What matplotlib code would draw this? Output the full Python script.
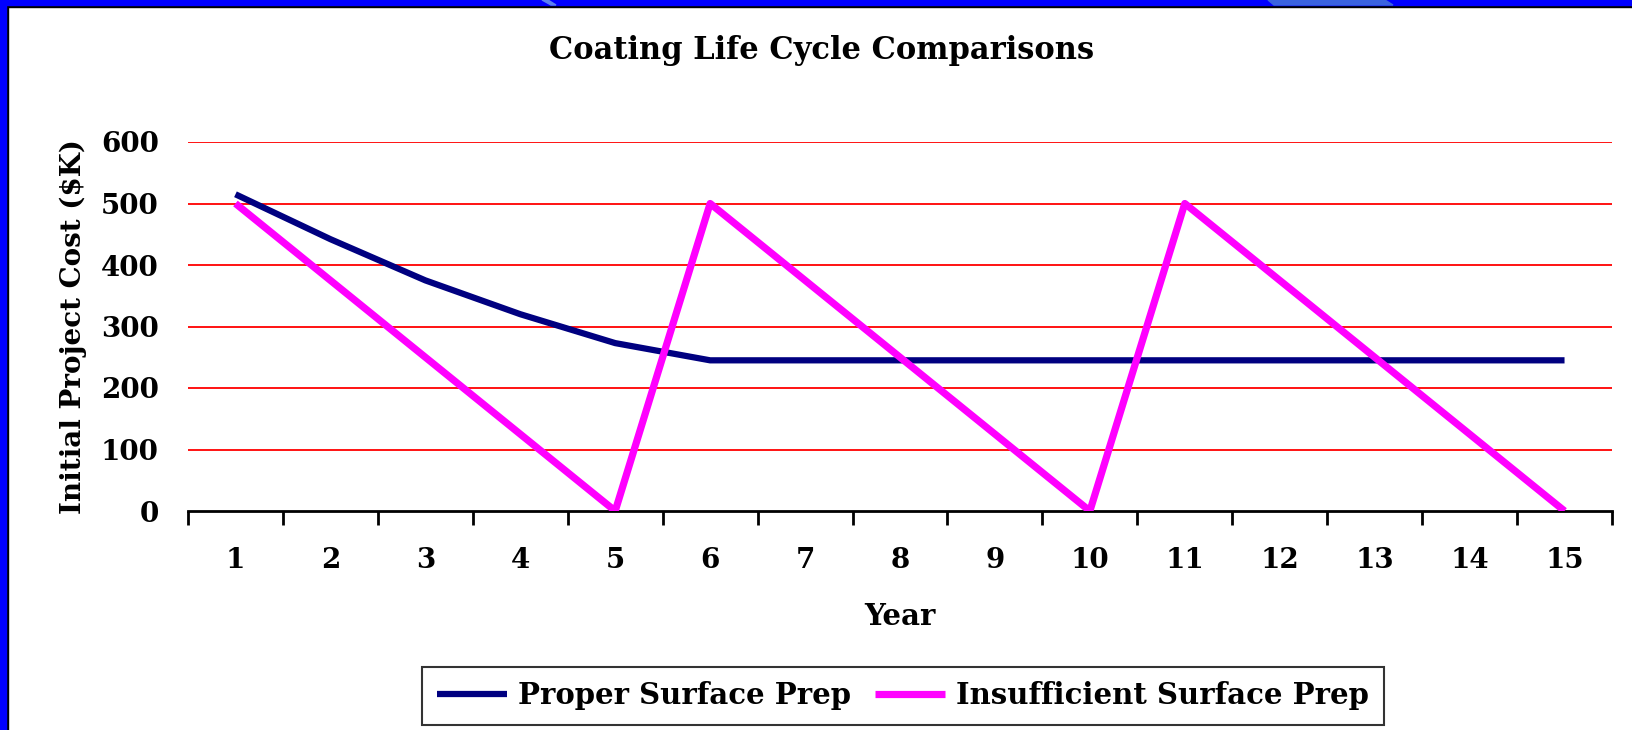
import matplotlib.pyplot as plt
from matplotlib.patches import Rectangle, Polygon

# Data
years = list(range(1, 16))
proper_prep = [515, 442, 375, 320, 273, 245, 245, 245, 245, 245, 245, 245, 245, 245, 245]
insufficient_prep = [500, 375, 250, 125, 0, 500, 375, 250, 125, 0, 500, 375, 250, 125, 0]
y_ticks = [0, 100, 200, 300, 400, 500, 600]

plt.rcParams['font.family'] = ['DejaVu Serif']
plt.rcParams['font.weight'] = 'bold'

W, H = 1632, 730
fig = plt.figure(figsize=(W / 100, H / 100), dpi=100)
fig.patch.set_facecolor('white')

# slide frame: blue band top and left with a thin black edge
fig.patches.append(Rectangle((0, 1 - 7 / H), 1, 7 / H, transform=fig.transFigure, color='black', zorder=0))
fig.patches.append(Rectangle((0, 1 - 5 / H), 1, 5 / H, transform=fig.transFigure, color='#0000FF', zorder=1))
fig.patches.append(Rectangle((0, 0), 8 / W, 1, transform=fig.transFigure, color='black', zorder=0))
fig.patches.append(Rectangle((0, 0), 6 / W, 1, transform=fig.transFigure, color='#0000FF', zorder=1))
fig.patches.append(Polygon([(1268 / W, 1), (1385 / W, 1), (1393 / W, 1 - 5 / H), (1274 / W, 1 - 5 / H)],
                           closed=True, transform=fig.transFigure, color='#3A63E0', zorder=2))
fig.patches.append(Polygon([(542 / W, 1), (548 / W, 1), (556 / W, 1 - 5 / H), (551 / W, 1 - 5 / H)],
                           closed=True, transform=fig.transFigure, color='#5A80F0', zorder=2))

ax = fig.add_axes([188 / W, 219 / H, 1424 / W, 369 / H])
ax.plot(years, proper_prep, color='#000080', lw=4.5, solid_capstyle='butt',
        label='Proper Surface Prep', zorder=3)
ax.plot(years, insufficient_prep, color='#FF00FF', lw=5.2, solid_capstyle='butt',
        label='Insufficient Surface Prep', zorder=3)

ax.set_xlim(0.5, 15.5)
ax.set_ylim(0, 600)
ax.set_yticks(y_ticks)
for v in y_ticks[1:]:
    ax.axhline(v, color='#FF0000', lw=1.3, zorder=1)

ax.set_xticks(years)
ax.set_xticks([y - 0.5 for y in years] + [15.5], minor=True)
ax.tick_params(axis='x', which='major', length=0, pad=26, labelsize=20)
ax.tick_params(axis='x', which='minor', length=10, width=2, direction='out')
ax.tick_params(axis='y', length=0, pad=21, labelsize=20)

for s in ['top', 'right', 'left']:
    ax.spines[s].set_visible(False)
ax.spines['bottom'].set_linewidth(2)

ax.set_title('Coating Life Cycle Comparisons', fontsize=22, fontweight='bold', pad=60, x=0.445)
ax.set_xlabel('Year', fontsize=21, fontweight='bold', labelpad=20)
ax.set_ylabel('Initial Project Cost ($K)', fontsize=20, fontweight='bold', labelpad=10)

leg = ax.legend(loc='center', bbox_to_anchor=(903 / W, 1 - 696 / H), bbox_transform=fig.transFigure,
                ncol=2, frameon=True, fancybox=False, fontsize=21, handlelength=2.4,
                columnspacing=0.8, handletextpad=0.4, borderpad=0.5)
leg.get_frame().set_edgecolor('black')
leg.get_frame().set_linewidth(1.5)
for t in leg.get_texts():
    t.set_fontweight('bold')

fig.savefig('out.png', dpi=100)
